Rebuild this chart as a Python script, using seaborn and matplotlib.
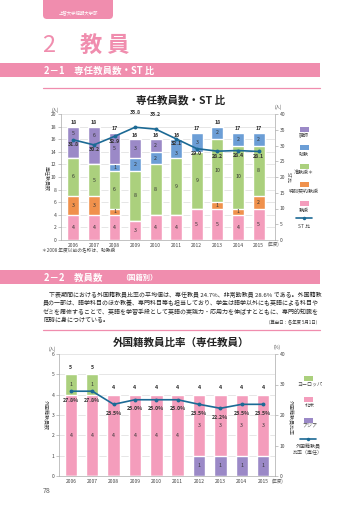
import numpy as np
import matplotlib
matplotlib.use("Agg")
import matplotlib.pyplot as plt
from matplotlib.patches import Rectangle, FancyBboxPatch
from matplotlib.lines import Line2D
import seaborn as sns

sns.set_style("white")
plt.rcParams["font.family"] = ["Noto Sans CJK JP", "DejaVu Sans"]

W, H = 360, 509

# ---- data: 専任教員数・ST比 ----
years = ["2006", "2007", "2008", "2009", "2010", "2011", "2012", "2013", "2014", "2015"]
professor = [4, 4, 4, 3, 4, 4, 5, 5, 4, 5]            # 教授
special_professor = [3, 3, 1, 0, 0, 0, 0, 1, 1, 2]    # 特別契約教授
assoc_professor = [6, 5, 6, 8, 8, 9, 9, 10, 10, 8]    # 准教授*
assistant_professor = [0, 0, 1, 2, 2, 3, 3, 2, 2, 2]  # 助教
lecturer = [5, 6, 5, 3, 2, 0, 0, 0, 0, 0]             # 講師
st_ratio = [31.8, 30.2, 32.9, 35.8, 35.2, 32.1, 29.0, 28.2, 28.4, 28.1]

# ---- data: 外国籍教員比率 ----
asia = [0, 0, 0, 0, 0, 0, 1, 1, 1, 1]
north_america = [4, 4, 4, 4, 4, 4, 3, 3, 3, 3]
europe = [1, 1, 0, 0, 0, 0, 0, 0, 0, 0]
foreign_ratio = [27.8, 27.8, 23.5, 25.0, 25.0, 25.0, 23.5, 22.2, 23.5, 23.5]

legend1 = ["講師", "助教", "准教授＊", "特別契約教授", "教授", "ST 比"]
legend2 = ["ヨーロッパ", "北米", "アジア", "外国籍教員\n比率（専任）"]

PINK = "#F49DBC"
ORANGE = "#F0914C"
GREEN = "#ABD07D"
BLUE = "#6C9ED6"
PURPLE = "#9B89C7"
LINE = "#1C6A95"
BRAND = "#F08DAE"
TXT = "#333333"


def box(x0, y0, x1, y1):
    return [x0 / W, 1 - y1 / H, (x1 - x0) / W, (y1 - y0) / H]


def chart(rect, layers, colors, ratio, ymax, ystep, rmax, rstep, xlim, fmt,
          below_px, above_px, total_px, grid_step):
    ax = fig.add_axes(box(*rect))
    ax.set_facecolor("none")
    scale = ymax / rmax
    tops = np.cumsum(layers, axis=0)
    for k in range(len(layers) - 1, -1, -1):
        sns.barplot(x=years, y=tops[k], color=colors[k], saturation=1,
                    width=0.58, ax=ax, zorder=2)
    ax.set_ylim(0, ymax)
    ax.set_xlim(*xlim)
    ax.set_yticks(np.arange(0, ymax + 0.01, ystep))
    ax.set_yticks(np.arange(0, ymax + 0.01, grid_step), minor=True)
    ax.yaxis.grid(True, which="both", color="#dcdcdc", lw=0.5, zorder=0)
    ax.set_axisbelow(True)
    ax.tick_params(axis="y", which="major", labelsize=3.6, length=2, width=0.4,
                   color="#999999", pad=1.2, labelcolor="#444444")
    ax.tick_params(axis="y", which="minor", length=0)
    ax.tick_params(axis="x", labelsize=3.6, length=0, pad=2.2, labelcolor="#444444")
    for s in ["top", "right"]:
        ax.spines[s].set_visible(False)
    for s in ["left", "bottom"]:
        ax.spines[s].set_color("#aaaaaa")
        ax.spines[s].set_linewidth(0.5)
    ax.set_xlabel("")
    ax.set_ylabel("")

    px_per_unit = (rect[3] - rect[1]) / ymax
    totals = tops[-1]
    # segment labels
    for k, vals in enumerate(layers):
        for i, v in enumerate(vals):
            if v == 0:
                continue
            t = tops[k][i]
            b = t - v
            mid = (b + t) / 2
            lab_y = ratio[i] * scale - below_px / px_per_unit
            if abs(mid - lab_y) < 1.1 * (ymax / 20) and v >= 3 * (ymax / 20) and b < lab_y < t:
                gap = 0.8 * (ymax / 20)
                up = t - (lab_y + gap)
                low = (lab_y - gap) - b
                mid = (lab_y + gap + t) / 2 if up > low else (b + lab_y - gap) / 2
            ax.text(i, mid, str(v), ha="center", va="center", fontsize=3.8,
                    color=TXT, zorder=5)
        # totals
    for i, tot in enumerate(totals):
        ax.annotate(str(int(tot)), (i, tot), xytext=(0, total_px * 0.72),
                    textcoords="offset points", ha="center", va="center",
                    fontsize=3.8, color=TXT, fontweight="bold", annotation_clip=False)

    ax2 = ax.twinx()
    sns.lineplot(x=np.arange(len(years)), y=ratio, ax=ax2, color=LINE, lw=1.2,
                 marker="o", markersize=2.8, markeredgewidth=0, zorder=6)
    ax2.set_ylim(0, rmax)
    ax2.set_xlim(*xlim)
    ax2.set_yticks(np.arange(0, rmax + 0.01, rstep))
    ax2.tick_params(axis="y", labelsize=3.6, length=2, width=0.4, color="#999999",
                    pad=1.2, labelcolor="#444444")
    for s in ["top", "left", "bottom"]:
        ax2.spines[s].set_visible(False)
    ax2.spines["right"].set_color("#aaaaaa")
    ax2.spines["right"].set_linewidth(0.5)
    ax2.set_ylabel("")
    for i, r in enumerate(ratio):
        above = r * scale > totals[i] + 0.5 * (ymax / 20)
        off = above_px if above else -below_px
        ax2.annotate(fmt.format(r), (i, r), xytext=(0, off * 0.72),
                     textcoords="offset points", ha="center", va="center",
                     fontsize=3.8, color=TXT, fontweight="bold",
                     annotation_clip=False, zorder=7)
    return ax, ax2


fig = plt.figure(figsize=(W / 100, H / 100), dpi=100)
page = fig.add_axes([0, 0, 1, 1])
page.set_xlim(0, W)
page.set_ylim(H, 0)
page.axis("off")

# header tab
page.add_patch(FancyBboxPatch((43, -10), 70, 29, boxstyle="round,pad=0,rounding_size=4",
                              fc=BRAND, ec="none"))
page.text(78, 13, "上智大学短期大学部", ha="center", va="center", fontsize=3.2, color="white")
page.text(42, 45, "2", ha="left", va="center", fontsize=17, color=BRAND)
page.text(80, 45, "教 員", ha="left", va="center", fontsize=16, color=BRAND, fontweight="bold")

# section 2-1
page.add_patch(Rectangle((0, 63), 320, 14, fc=BRAND, ec="none"))
page.text(44, 70.5, "2－1　専任教員数・ST 比", ha="left", va="center", fontsize=6.8,
          color="white", fontweight="bold")
page.plot([43, 320], [88, 88], color=BRAND, lw=0.9)
page.text(181, 100, "専任教員数・ST 比", ha="center", va="center", fontsize=7.6,
          color="#222222", fontweight="bold")

chart((61, 114, 275, 240),
      [professor, special_professor, assoc_professor, assistant_professor, lecturer],
      [PINK, ORANGE, GREEN, BLUE, PURPLE], st_ratio, 20, 2, 40, 5, (-0.6, 9.8),
      "{:.1f}", 5, 15, 4, 2)

page.text(55, 110, "(人)", ha="center", va="center", fontsize=3.2, color="#555555")
page.text(278, 107, "(人)", ha="center", va="center", fontsize=3.2, color="#555555")
page.text(47, 178, "専任教員数", ha="center", va="center", fontsize=3.6, color="#444444",
          rotation=270)
page.text(288, 178, "ST比", ha="center", va="center", fontsize=3.6, color="#444444",
          rotation=270)
page.text(268, 244.5, "(年度)", ha="left", va="center", fontsize=3.2, color="#555555")
page.text(42, 251, "＊2008 年度以前の名称は、助教授", ha="left", va="center",
          fontsize=3.4, color="#444444")

# legend 1
lx = 304
leg_colors = [PURPLE, BLUE, GREEN, ORANGE, PINK]
leg_y = [129, 147, 166, 184, 203]
for c, y, lab in zip(leg_colors, leg_y, legend1):
    page.add_patch(Rectangle((lx - 4.5, y - 2.5), 9, 5, fc=c, ec="none"))
    page.text(lx, y + 7, lab, ha="center", va="center", fontsize=3.6, color="#444444")
page.plot([lx - 8, lx + 8], [218, 218], color=LINE, lw=1.2)
page.plot([lx], [218], "o", color=LINE, ms=2.5, mew=0)
page.text(lx, 226, legend1[-1], ha="center", va="center", fontsize=3.6, color="#444444")

# section 2-2
page.add_patch(Rectangle((0, 270), 320, 14, fc=BRAND, ec="none"))
page.text(44, 277.5, "2－2　教員数", ha="left", va="center", fontsize=6.8,
          color="white", fontweight="bold")
page.text(121, 277.8, "（国籍別）", ha="left", va="center", fontsize=5.2,
          color="white", fontweight="bold")

para = [
    "　下表期間における外国籍教員比率の平均値は、専任教員 24.7%、非常勤教員 28.6% である。外国籍教",
    "員の一部は、語学科目のほか教養、専門科目等も担当しており、学生は語学以外にも英語による科目や",
    "ゼミを履修することで、英語を学習手段として英語の実践力・応用力を伸ばすとともに、専門的知識を",
    "同時に身につけている。",
]
for j, line in enumerate(para):
    page.text(43, 295 + j * 8.3, line, ha="left", va="center", fontsize=4.3, color="#222222")
page.text(320, 322.5, "（算出日：各年度 5月1日）", ha="right", va="center", fontsize=3.2,
          color="#333333")
page.plot([43, 320], [330, 330], color=BRAND, lw=0.9)
page.text(181, 343, "外国籍教員比率（専任教員）", ha="center", va="center", fontsize=7.6,
          color="#222222", fontweight="bold")

chart((59, 354, 275, 476), [asia, north_america, europe], [PURPLE, PINK, GREEN],
      foreign_ratio, 6, 1, 40, 10, (-0.56, 9.56), "{:.1f}%", 9, 15, 7, 1)

page.text(52, 349, "(人)", ha="center", va="center", fontsize=3.2, color="#555555")
page.text(277, 347, "(%)", ha="center", va="center", fontsize=3.2, color="#555555")
page.text(45, 415, "外国籍教員数", ha="center", va="center", fontsize=3.6, color="#444444",
          rotation=270)
page.text(290, 417, "外国籍教員比率", ha="center", va="center", fontsize=3.6, color="#444444",
          rotation=270)
page.text(272, 481, "(年度)", ha="left", va="center", fontsize=3.2, color="#555555")

# legend 2
lx = 308
for c, y, lab in zip([GREEN, PINK, PURPLE], [378, 399, 420], legend2):
    page.add_patch(Rectangle((lx - 4.5, y - 2.5), 9, 5, fc=c, ec="none"))
    page.text(lx + 2, y + 6.5, lab, ha="center", va="center", fontsize=3.6, color="#444444")
page.plot([lx - 8, lx + 8], [439, 439], color=LINE, lw=1.2)
page.plot([lx], [439], "o", color=LINE, ms=2.5, mew=0)
page.text(lx, 450, legend2[-1], ha="center", va="center", fontsize=3.6, color="#444444",
          linespacing=1.3)

page.text(43, 491, "78", ha="left", va="center", fontsize=5, color="#555555")

fig.savefig("out.png", dpi=100)
